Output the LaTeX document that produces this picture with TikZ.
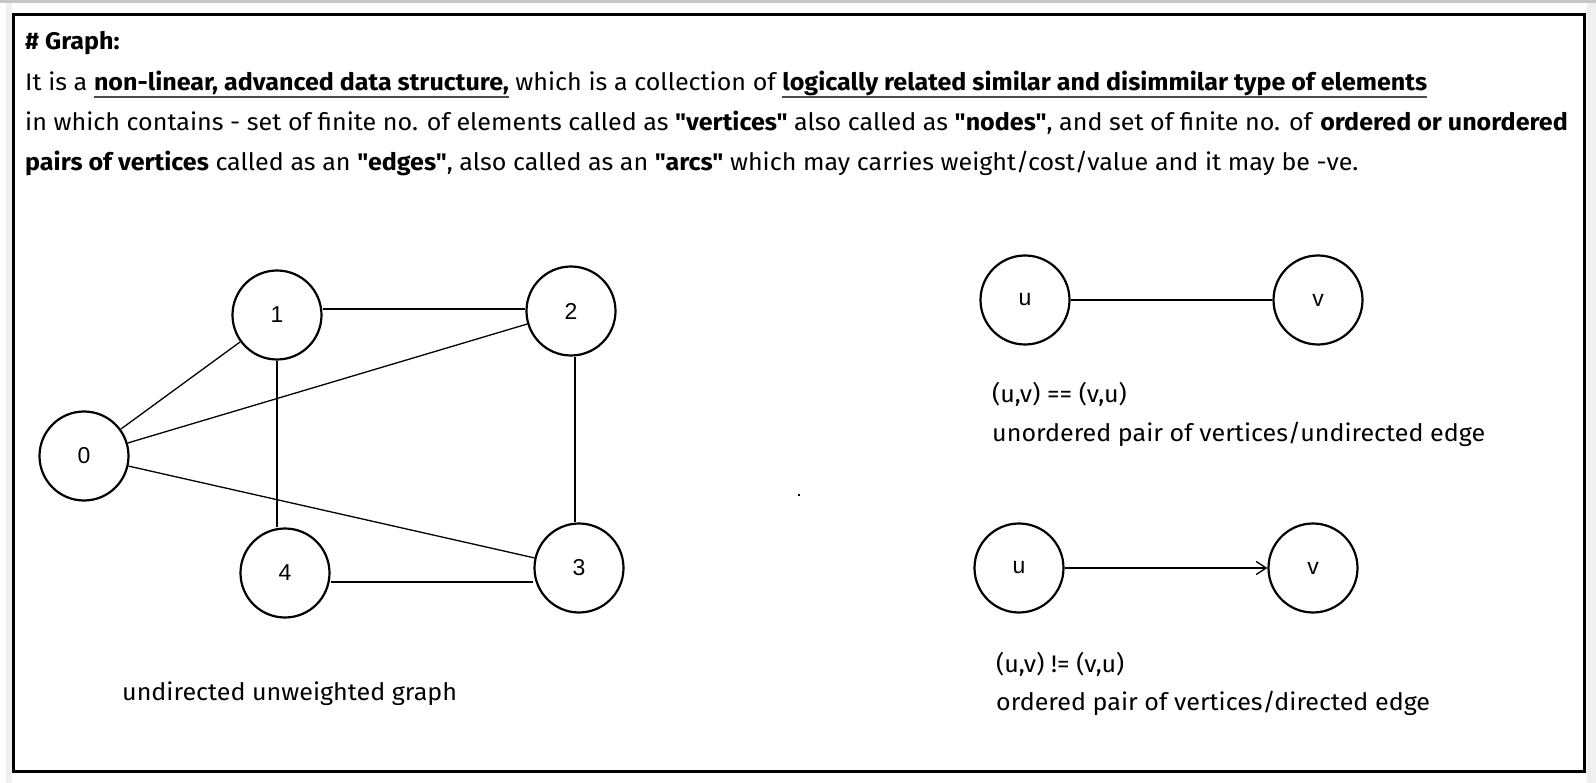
\documentclass[tikz,border=0pt]{standalone}
\usepackage{fontspec}
\setmainfont{Fira Sans}[Ligatures=TeXOff,FakeStretch=1.045]
\newfontfamily\labelfont{Liberation Sans}
\usetikzlibrary{arrows.meta}
\tikzset{
vertex/.style={
  circle,
  draw,
  line width=2.2pt,
  minimum size=89pt,
  inner sep=0pt,
  font=\labelfont\fontsize{23}{26}\selectfont
},
edgeline/.style={line width=1.3pt},
textline/.style={anchor=base west, inner sep=0pt, font=\fontsize{24}{28}\selectfont},
caption/.style={anchor=base west, inner sep=0pt, font=\fontsize{24}{28}\selectfont},
}
% underline at a fixed depth
\newcommand{\undl}[1]{\setbox0\hbox{#1}\rlap{\color{black!70}\vrule height -5.5pt depth 7.5pt width \wd0}\box0\relax}

\begin{document}
\begin{tikzpicture}[x=1pt,y=-1pt]
\useasboundingbox (0,0) rectangle (1596,783);
% the window
\fill[gray!45] (0,0) rectangle (1596,3);
\fill[gray!12] (6,3) rectangle (12,783);
\fill[gray!12] (1587,3) rectangle (1596,783);
\draw[line width=3pt] (13.5,15) rectangle (1584.5,771.5);
% the text
\node[textline] (title) at (25,50) {\textbf{\# Graph:}};
\node[textline] (line1) at (25,91) {It is a \undl{\textbf{non-linear, advanced data structure,}} which is a collection of \undl{\textbf{logically related similar and disimmilar type of elements}}};
\node[textline] (line2) at (25,131) {in which contains - set of finite no. of elements called as \textbf{"vertices"} also called as \textbf{"nodes"}, and set of finite no. of \textbf{ordered or unordered}};
\node[textline] (line3) at (25,171) {\textbf{pairs of vertices} called as an \textbf{"edges"}, also called as an \textbf{"arcs"} which may carries weight/cost/value and it may be -ve.};
% the graph
\node[vertex] (n0) at (84,456) {0};
\node[vertex] (n1) at (277,315) {1};
\node[vertex] (n2) at (571,311) {2};
\node[vertex] (n3) at (579,568) {3};
\node[vertex] (n4) at (285,573) {4};
\foreach \a/\b in {n0/n1,n0/n2,n0/n3}
{
  \draw[edgeline] (\a) -- (\b);
}
\draw[edgeline] ([yshift=6pt]n1.east) -- ([yshift=6pt]n1.east -| n2.west);
\draw[edgeline] (n1.south) -- (n1.south |- n4.north);
\draw[edgeline] ([xshift=4pt]n2.south) -- ([xshift=4pt]n2.south |- n3.north);
\draw[edgeline] ([yshift=-9pt]n4.east) -- ([yshift=-9pt]n4.east -| n3.west);
\node[caption] (graphcap) at (122,700) {undirected unweighted graph};
% the pairs
\node[vertex] (u1) at (1025,300) {u};
\node[vertex] (v1) at (1318,300) {v};
\draw[edgeline] (u1) -- (v1);
\node[caption] (eqcap) at (992,403) {(u,v) == (v,u)};
\node[caption] (undircap) at (992,442) {unordered pair of vertices/undirected edge};
\node[vertex] (u2) at (1019,568) {u};
\node[vertex] (v2) at (1313,568) {v};
\draw[edgeline,-{Straight Barb[length=10pt,width=13pt]}] (u2) -- (v2);
\node[caption] (neqcap) at (996,672) {(u,v) != (v,u)};
\node[caption] (dircap) at (996,710) {ordered pair of vertices/directed edge};
\fill (798,494) rectangle (800,496);
\end{tikzpicture}
\end{document}
